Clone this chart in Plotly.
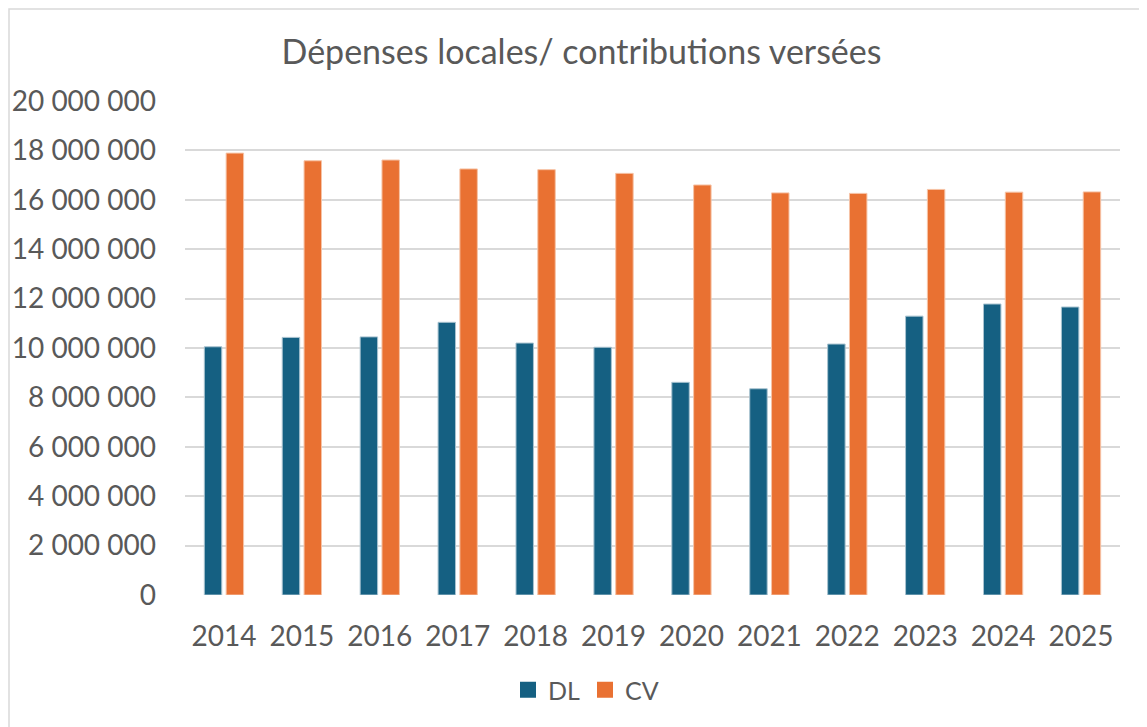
import plotly.graph_objects as go

years = ["2014", "2015", "2016", "2017", "2018", "2019", "2020", "2021", "2022", "2023", "2024", "2025"]
dl = [10050000, 10430000, 10450000, 11040000, 10200000, 10030000, 8610000, 8350000, 10160000, 11290000, 11780000, 11660000]
cv = [17890000, 17580000, 17610000, 17250000, 17220000, 17070000, 16600000, 16280000, 16260000, 16420000, 16310000, 16320000]
tick_vals = [0, 2000000, 4000000, 6000000, 8000000, 10000000, 12000000, 14000000, 16000000, 18000000, 20000000]
tick_text = ["0", "2 000 000", "4 000 000", "6 000 000", "8 000 000", "10 000 000", "12 000 000",
             "14 000 000", "16 000 000", "18 000 000", "20 000 000"]

DL_COLOR, CV_COLOR = "#156082", "#e97132"
W, H = 1147, 727
OFF = 8  # page body margin
ml, mr, mt, mb = 185 - OFF, 27 + OFF, 101 - OFF, 132 + OFF
pw, ph = W - ml - mr, H - mt - mb

fig = go.Figure()
fig.add_trace(go.Bar(x=years, y=dl, name="DL", showlegend=False,
                     marker=dict(color=DL_COLOR, line=dict(color="#a9c3d0", width=1))))
fig.add_trace(go.Bar(x=years, y=cv, name="CV", showlegend=False,
                     marker=dict(color=CV_COLOR, line=dict(color="#f6c3a6", width=1))))
# legend entries with larger square symbols
fig.add_trace(go.Scatter(x=[None], y=[None], mode="markers", name="DL",
                         marker=dict(symbol="square", size=17, color=DL_COLOR)))
fig.add_trace(go.Scatter(x=[None], y=[None], mode="markers", name="CV",
                         marker=dict(symbol="square", size=17, color=CV_COLOR)))

font = "Lato, 'Open Sans', sans-serif"
fig.update_layout(
    width=W, height=H,
    margin=dict(l=ml, r=mr, t=mt, b=mb, autoexpand=False),
    paper_bgcolor="white", plot_bgcolor="white",
    barmode="group", bargap=0.44, bargroupgap=0.2,
    font=dict(family=font, color="#595959", size=28),
    title=dict(text="Dépenses locales/ contributions versées", x=0.5, xanchor="center",
               y=1 - (52 - OFF) / H, yanchor="middle", font=dict(family=font, size=34, color="#595959")),
    xaxis=dict(showgrid=False, showline=False, ticks="", ticklabelstandoff=22,
               tickfont=dict(size=28, color="#595959")),
    yaxis=dict(range=[0, 20000000], tickvals=tick_vals, ticktext=tick_text, showgrid=True,
               gridcolor="#d9d9d9", gridwidth=1.5, zeroline=False, showline=False, ticks="",
               ticklabelstandoff=28, tickfont=dict(size=28, color="#595959")),
    legend=dict(orientation="h", x=(586 - OFF - ml) / pw, xanchor="center", y=-(690 - 595) / ph,
                yanchor="middle", font=dict(size=25, color="#595959"), itemwidth=30,
                traceorder="normal"),
    showlegend=True,
)
# outer chart border
fig.add_shape(type="rect", xref="paper", yref="paper",
              x0=(9 - OFF - ml) / pw, x1=(W + 5 - ml) / pw,
              y0=-(H + 5 - (mt + ph)) / ph,
              y1=(mt + ph - (9 - OFF)) / ph,
              line=dict(color="#d9d9d9", width=1.5), fillcolor="rgba(0,0,0,0)", layer="below")

fig.write_html("out.html")
